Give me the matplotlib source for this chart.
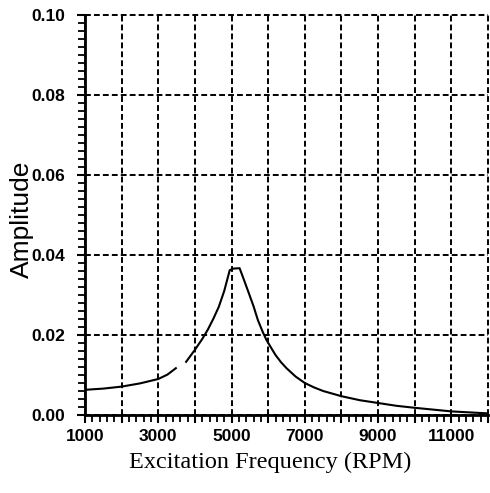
import numpy as np
import matplotlib
matplotlib.use('Agg')
import matplotlib.pyplot as plt
from matplotlib.ticker import MultipleLocator, FuncFormatter

rpm = [1000, 1500, 2000, 2500, 3000, 3250, 3480, 3620,
       3760, 4000, 4200, 4350, 4500, 4650, 4800, 4950, 5050, 5220,
       5330, 5450, 5600, 5720, 5850, 5950, 6100, 6200, 6350, 6500,
       6750, 7000, 7250, 7500, 8000, 8500, 9000, 9500, 10000,
       11000, 12000]
amp = [0.0063, 0.0066, 0.0071, 0.0079, 0.0090, 0.0101, 0.0117, np.nan,
       0.0133, 0.0163, 0.0190, 0.0213, 0.0240, 0.0270, 0.0310, 0.0362, 0.0366, 0.0367,
       0.0340, 0.0310, 0.0272, 0.0237, 0.0208, 0.0188, 0.0165, 0.0150, 0.0132, 0.0117,
       0.0096, 0.0080, 0.0069, 0.0060, 0.0047, 0.0037, 0.0030, 0.0023, 0.0018,
       0.0009, 0.0004]

xticklabels = ['1000', '3000', '5000', '7000', '9000', '11000']

fig = plt.figure(figsize=(4.9, 4.93), dpi=100)
ax = fig.add_axes([85/490., 78/493., 403/490., 400/493.])

ax.plot(rpm, amp, color='black', lw=1.5)

ax.set_xlim(1000, 12000)
ax.set_ylim(0, 0.10)
ax.xaxis.set_major_locator(MultipleLocator(1000))
ax.xaxis.set_minor_locator(MultipleLocator(200))
ax.yaxis.set_major_locator(MultipleLocator(0.02))
ax.yaxis.set_minor_locator(MultipleLocator(0.002))

def xfmt(v, pos):
    s = '%d' % round(v)
    return s if s in xticklabels else ''
ax.xaxis.set_major_formatter(FuncFormatter(xfmt))
ax.yaxis.set_major_formatter(FuncFormatter(lambda v, p: '%.2f' % v))

ax.grid(True, which='major', color='black', ls=(0, (3, 1.6)), lw=1.4)
for gl in ax.get_xgridlines() + ax.get_ygridlines():
    gl.set_clip_on(False)

ax.spines['top'].set_visible(False)
ax.spines['right'].set_visible(False)
ax.spines['left'].set_linewidth(2)
ax.spines['bottom'].set_linewidth(2)

ax.tick_params(which='major', direction='out', length=6, width=1.5,
               labelsize=12.5)
ax.tick_params(axis='y', which='major', pad=8)
ax.tick_params(axis='x', which='major', pad=4)
ax.tick_params(which='minor', direction='out', length=5, width=1.3)
for lab in ax.get_xticklabels() + ax.get_yticklabels():
    lab.set_fontfamily('Liberation Sans')
    lab.set_fontweight('bold')

ax.set_ylabel('Amplitude', fontsize=19, family='Liberation Sans', va='center')
ax.yaxis.set_label_coords(-0.156, 0.49)
ax.set_xlabel('Excitation Frequency (RPM)', fontsize=17.5,
              family='Liberation Serif', va='center')
ax.xaxis.set_label_coords(0.459, -0.1175)

plt.savefig('out.png', dpi=100)
